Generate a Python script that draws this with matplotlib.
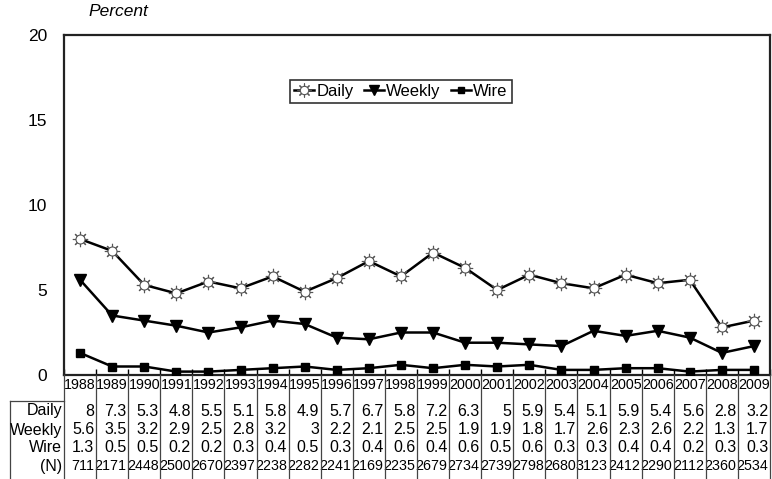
import matplotlib.pyplot as plt
import matplotlib.transforms as mtransforms
from matplotlib.lines import Line2D
import numpy as np

plt.rcParams['font.family'] = ['Liberation Sans', 'DejaVu Sans']

years = list(range(1988, 2010))
daily = [8, 7.3, 5.3, 4.8, 5.5, 5.1, 5.8, 4.9, 5.7, 6.7, 5.8, 7.2, 6.3, 5, 5.9, 5.4, 5.1, 5.9, 5.4, 5.6, 2.8, 3.2]
weekly = [5.6, 3.5, 3.2, 2.9, 2.5, 2.8, 3.2, 3, 2.2, 2.1, 2.5, 2.5, 1.9, 1.9, 1.8, 1.7, 2.6, 2.3, 2.6, 2.2, 1.3, 1.7]
wire = [1.3, 0.5, 0.5, 0.2, 0.2, 0.3, 0.4, 0.5, 0.3, 0.4, 0.6, 0.4, 0.6, 0.5, 0.6, 0.3, 0.3, 0.4, 0.4, 0.2, 0.3, 0.3]
n_resp = [711, 2171, 2448, 2500, 2670, 2397, 2238, 2282, 2241, 2169, 2235, 2679, 2734, 2739, 2798, 2680, 3123, 2412, 2290, 2112, 2360, 2534]

W, H = 772, 479
fig = plt.figure(figsize=(W / 100, H / 100), dpi=100)
ax = fig.add_axes([64 / W, 1 - 375 / H, (770 - 64) / W, (375 - 35) / H])

x = np.arange(len(years))

# daily: sun-like marker (rays + open circle)
ax.plot(x, daily, color='black', lw=1.8, zorder=2)
ax.plot(x, daily, ls='none', marker=(8, 2, 0), ms=11, mec='#555555', mew=0.8, zorder=3)
ax.plot(x, daily, ls='none', marker='o', ms=6.5, mfc='white', mec='#555555', mew=0.8, zorder=4)
ax.plot(x, weekly, color='black', lw=1.8, marker='v', ms=8, zorder=3)
ax.plot(x, wire, color='black', lw=1.8, marker='s', ms=5.5, zorder=3)

ax.set_xlim(-0.5, len(years) - 0.5)
ax.set_ylim(0, 20)
ax.set_yticks([0, 5, 10, 15, 20])
ax.tick_params(axis='y', length=0, labelsize=12.5, pad=12)
ax.set_xticks([])
ax.set_xticks(np.arange(-0.5, len(years)), minor=True)
ax.tick_params(axis='x', which='minor', direction='in', length=4, width=1)
for s in ax.spines.values():
    s.set_linewidth(1.6)
    s.set_color('#222222')

fig.text(88 / W, 1 - 12 / H, 'Percent', fontsize=12.5, style='italic', va='center', ha='left')

# legend
daily_h = (Line2D([], [], color='black', lw=1.8),
           Line2D([], [], ls='none', marker=(8, 2, 0), ms=10, mec='#555555', mew=0.8),
           Line2D([], [], ls='none', marker='o', ms=6, mfc='white', mec='#555555', mew=0.8))
week_h = Line2D([], [], color='black', lw=1.8, marker='v', ms=7.5)
wire_h = Line2D([], [], color='black', lw=1.8, marker='s', ms=5)
leg = ax.legend([daily_h, week_h, wire_h], ['Daily', 'Weekly', 'Wire'], ncol=3,
                loc='upper center', bbox_to_anchor=(0.477, 0.868), fontsize=12,
                frameon=True, fancybox=False, handlelength=1.2, handletextpad=0.15,
                columnspacing=0.6, borderpad=0.25, borderaxespad=0)
leg.get_frame().set_edgecolor('black')
leg.get_frame().set_linewidth(1.2)

# data table below the axes
tr = mtransforms.blended_transform_factory(ax.transData, fig.transFigure)
ftr = fig.transFigure

def fy(py):
    return 1 - py / H

rows = [('Daily', daily), ('Weekly', weekly), ('Wire', wire), ('(N)', n_resp)]
row_y = [411, 430, 448, 466]
for i, yr in enumerate(years):
    ax.text(i, fy(385), str(yr), transform=tr, ha='center', va='center', fontsize=10.3, clip_on=False)
    for (name, vals), py in zip(rows, row_y):
        ax.text(i + 0.45, fy(py), f'{vals[i]:g}', transform=tr, ha='right', va='center',
                fontsize=11.5 if name != '(N)' else 10.3, clip_on=False)
for b in np.arange(-0.5, len(years)):
    fig.add_artist(Line2D([b, b], [fy(375), 0], transform=tr, color='#444444', lw=0.9))
for (name, vals), py in zip(rows, row_y):
    fig.text(62 / W, fy(py), name, ha='right', va='center', fontsize=11.5)
fig.add_artist(Line2D([10 / W, 64 / W], [fy(401), fy(401)], transform=ftr, color='#444444', lw=0.9))
fig.add_artist(Line2D([10 / W, 10 / W], [fy(401), 0], transform=ftr, color='#444444', lw=0.9))

fig.savefig('out.png', dpi=100)
